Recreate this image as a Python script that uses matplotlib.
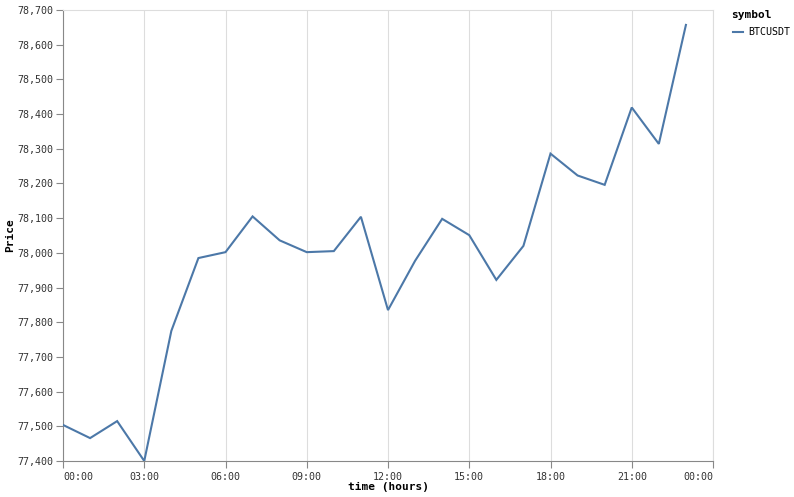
import matplotlib
matplotlib.use("Agg")
import matplotlib.pyplot as plt
from matplotlib.lines import Line2D

plt.rcParams['font.family'] = ['DejaVu Sans Mono']

hours = list(range(24))
price = [77504, 77466, 77515, 77400, 77775, 77985, 78002, 78105, 78036, 78002,
         78005, 78104, 77835, 77977, 78098, 78051, 77922, 78020, 78286, 78223,
         78196, 78419, 78314, 78657]
xtick_pos = [0, 3, 6, 9, 12, 15, 18, 21, 24]
xtick_labels = ["00:00", "03:00", "06:00", "09:00", "12:00", "15:00", "18:00", "21:00", "00:00"]
yticks = list(range(77400, 78701, 100))

W, H = 794, 497
fig = plt.figure(figsize=(W / 100, H / 100), dpi=100)
left, right, top, bottom = 63, 713, 10, 461
ax = fig.add_axes([left / W, 1 - bottom / H, (right - left) / W, (bottom - top) / H])

ax.plot(hours, price, color="#4c78a8", lw=1.5, solid_joinstyle="miter", zorder=3)

ax.set_xlim(0, 24)
ax.set_ylim(77400, 78700)
ax.set_xticks(xtick_pos)
ax.set_xticklabels(xtick_labels)
ax.set_yticks(yticks)
ax.set_yticklabels([f"{v:,}" for v in yticks])

ax.grid(axis="x", color="#dddddd", lw=0.8)
ax.set_axisbelow(True)

for s in ["top", "right"]:
    ax.spines[s].set_color("#dddddd")
    ax.spines[s].set_linewidth(0.8)
for s in ["left", "bottom"]:
    ax.spines[s].set_color("#888888")
    ax.spines[s].set_linewidth(0.8)

ax.tick_params(axis="both", colors="#888888", length=5, width=0.8, labelsize=7.2,
               labelcolor="#333333")
ax.tick_params(axis="x", pad=3)
ax.tick_params(axis="y", pad=2)
labels = ax.get_xticklabels()
labels[0].set_horizontalalignment("left")
labels[-1].set_horizontalalignment("right")

# axis titles placed like the reference
fig.text((left + right) / 2 / W, 1 - 487 / H, "time (hours)", fontsize=8, fontweight="bold",
         ha="center", va="center")
fig.text(10 / W, 1 - 235 / H, "Price", fontsize=8, fontweight="bold", rotation=90,
         ha="center", va="center")

# legend
fig.text(731 / W, 1 - 15 / H, "symbol", fontsize=8, fontweight="bold", va="center", ha="left")
fig.add_artist(Line2D([733 / W, 743 / W], [1 - 32 / H, 1 - 32 / H], color="#4c78a8", lw=1.5,
                      transform=fig.transFigure))
fig.text(748 / W, 1 - 32 / H, "BTCUSDT", fontsize=7.2, va="center", ha="left", color="#000000")

fig.savefig("out.png", dpi=100)
